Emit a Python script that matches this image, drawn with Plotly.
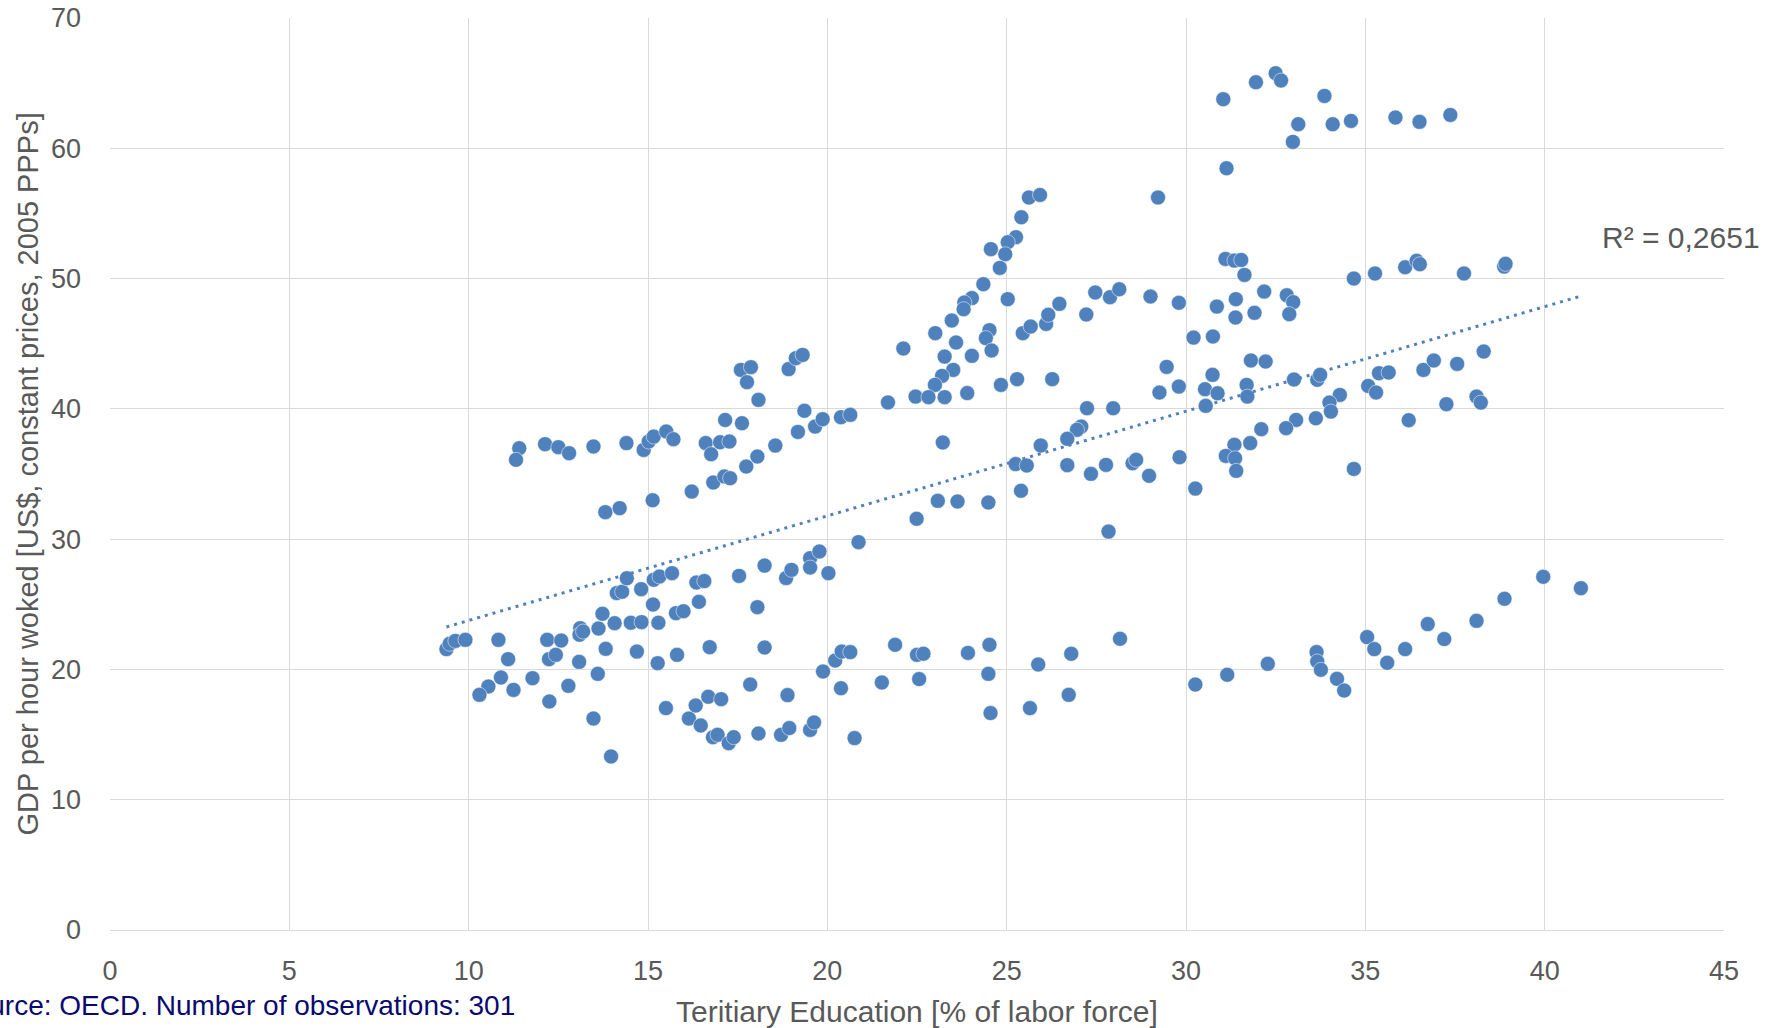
import numpy as np
import plotly.graph_objects as go

# Tertiary education [% of labor force]
edu = [
    11.41, 11.32, 12.13, 12.50, 12.80, 13.48, 14.40, 14.88, 15.02, 15.16, 15.51, 15.71, 16.61, 16.76, 17.01, 17.27,
    17.15, 17.62, 17.59, 17.87, 17.76, 18.08, 18.92, 19.12, 19.31, 19.36, 19.18, 19.66, 19.87, 20.38,
    13.81, 14.21, 15.13, 16.22, 16.82, 17.13, 17.29, 17.74, 18.05, 18.55,
    9.38, 9.47, 9.63, 9.91, 10.83, 11.10, 10.90, 10.55, 10.30, 11.25, 11.78, 12.19, 12.58, 12.24, 12.43, 12.25,
    12.78, 13.08, 13.11, 13.09, 13.19, 13.62, 13.73, 13.82, 13.60, 13.48, 13.97, 14.07, 14.13, 14.28, 14.41,
    14.52, 14.82, 14.69, 14.81, 15.16, 15.32, 15.67, 15.14, 15.29, 15.27, 15.81, 15.78, 15.99, 15.50, 16.14,
    16.33, 16.47, 16.68, 17.04, 16.81, 16.94, 17.25, 17.39, 16.35, 16.57, 16.42, 16.72, 17.54, 18.05, 18.25,
    18.25, 17.85, 18.08, 18.71, 18.94, 18.89, 18.85, 19.00, 19.52, 19.78, 19.52, 20.03, 19.52, 19.63, 19.88,
    20.22, 20.40, 20.38,
    25.62, 25.93, 25.41, 25.26, 25.03, 24.96, 24.56, 24.81, 24.35, 24.03, 23.82, 23.80, 23.47, 23.01, 22.12,
    23.59, 23.27, 24.03, 24.52, 24.42, 24.58, 25.03, 23.51, 23.20, 23.00, 22.46, 22.82, 23.27, 23.90, 24.84,
    25.29, 26.27, 21.69, 20.64, 25.45, 25.67, 26.10, 26.16, 26.47, 27.22, 27.47, 27.88, 28.14, 29.01, 29.22,
    29.80, 30.21, 30.75, 30.86, 29.46, 29.26, 29.80, 30.53, 30.74, 30.88, 30.55, 29.82, 30.26, 27.24, 27.97,
    27.08, 26.96, 26.69, 25.95, 26.69, 25.25, 25.56, 27.35, 27.77, 28.51, 28.61, 28.97, 23.22, 25.40, 23.08,
    23.63, 24.49, 22.49, 27.84, 20.87,
    21.89, 20.64, 20.76, 21.52, 22.50, 22.68, 22.56, 23.92, 24.52, 24.49, 24.55, 25.88, 26.80, 26.73, 25.65,
    28.16, 30.26,
    31.04, 31.95, 32.50, 32.65, 33.86, 33.13, 32.98, 34.09, 34.60, 35.84, 36.51, 37.37, 31.13, 31.10, 31.35,
    31.54, 31.63, 34.68, 35.27, 36.11, 36.43, 36.52, 37.75, 38.87, 38.91, 31.39, 31.38, 32.18, 31.91, 32.81,
    32.99, 32.88, 31.81, 32.22, 31.69, 31.71, 33.01, 33.66, 33.74, 34.29, 34.00, 34.04, 33.62, 33.07, 32.79,
    32.10, 31.79, 31.35, 31.11, 31.37, 31.40, 34.68, 35.08, 35.30, 35.38, 35.65, 36.21, 36.62, 36.91, 37.56,
    38.30, 37.26, 38.10, 38.22,
    31.15, 32.28, 33.64, 33.66, 33.76, 34.21, 34.41, 35.05, 35.25, 35.61, 36.11, 36.74, 37.20, 38.10, 38.88,
    39.96, 41.01,
]

# GDP per hour worked [US$, constant prices, 2005 PPPs]
gdp = [
    36.98, 36.09, 37.29, 37.06, 36.60, 37.11, 37.37, 36.85, 37.49, 37.87, 38.26, 37.67, 37.37, 36.52, 37.44, 37.49,
    39.15, 38.90, 42.99, 43.20, 42.05, 40.69, 43.05, 43.89, 44.14, 39.85, 38.23, 38.64, 39.21, 39.36,
    32.07, 32.38, 32.99, 33.65, 34.35, 34.81, 34.68, 35.57, 36.34, 37.18,
    21.56, 21.97, 22.19, 22.27, 22.27, 20.79, 19.38, 18.69, 18.05, 18.43, 19.33, 22.27, 22.22, 20.79, 21.12, 17.54,
    18.74, 20.58, 23.17, 22.66, 22.91, 23.14, 24.27, 21.58, 19.66, 16.23, 13.32, 23.55, 25.86, 25.96, 27.00,
    23.58, 23.63, 21.37, 26.16, 26.88, 27.13, 27.39, 24.98, 23.58, 20.48, 21.12, 24.32, 24.47, 17.03, 16.23,
    17.23, 15.70, 17.90, 17.72, 14.80, 14.98, 14.34, 14.80, 26.67, 26.78, 25.19, 21.71, 27.18, 24.78, 27.97,
    21.68, 18.84, 15.08, 14.98, 15.50, 18.03, 27.01, 27.64, 28.54, 29.05, 27.82, 27.39, 15.36, 15.93, 19.84,
    20.68, 21.37, 18.56,
    56.22, 56.42, 54.71, 53.18, 52.79, 51.87, 52.26, 50.82, 49.57, 48.50, 48.16, 47.65, 46.78, 45.81, 44.63,
    45.09, 44.01, 44.07, 46.04, 45.43, 44.48, 48.42, 42.99, 42.53, 41.84, 40.94, 40.90, 40.90, 41.21, 41.84,
    42.28, 42.28, 40.49, 39.54, 45.81, 46.32, 46.52, 47.22, 48.06, 47.24, 48.93, 48.57, 49.18, 48.62, 56.22,
    48.14, 45.47, 45.55, 47.85, 43.22, 41.25, 41.71, 41.51, 42.61, 41.20, 40.23, 36.29, 33.88, 40.05, 40.05,
    38.64, 38.39, 37.70, 37.19, 35.68, 35.76, 35.65, 35.01, 35.70, 35.83, 36.09, 34.86, 37.42, 33.71, 32.94,
    32.89, 32.81, 31.56, 30.58, 29.77,
    21.89, 21.33, 14.73, 19.00, 21.12, 21.20, 19.26, 21.27, 21.89, 19.66, 16.65, 20.38, 21.20, 18.05, 17.03,
    22.35, 18.84,
    63.77, 65.07, 65.76, 65.20, 64.02, 61.85, 60.49, 61.85, 62.10, 62.36, 62.03, 62.56, 58.47, 51.51, 51.38,
    51.43, 50.28, 50.00, 50.39, 50.87, 51.36, 51.10, 50.39, 50.92, 51.13, 48.42, 47.01, 49.00, 47.37, 48.72,
    48.19, 47.27, 43.71, 43.63, 41.84, 40.94, 42.25, 42.23, 42.61, 41.07, 40.48, 39.79, 39.28, 39.15, 38.52,
    38.44, 37.37, 37.24, 36.39, 36.21, 35.24, 35.39, 41.76, 41.25, 42.74, 42.79, 39.13, 42.99, 43.71, 43.45,
    44.40, 40.36, 40.94, 40.48,
    19.59, 20.43, 21.33, 20.61, 19.97, 19.28, 18.38, 22.48, 21.56, 20.51, 21.56, 23.48, 22.33, 23.73, 25.42,
    27.11, 26.24,
]

x_ticks = [0, 5, 10, 15, 20, 25, 30, 35, 40, 45]
y_ticks = [0, 10, 20, 30, 40, 50, 60, 70]

BLUE = "#4F81BD"
GRAY = "#595959"
GRID = "#D9D9D9"
FONT = "Liberation Sans"

xa = np.array(edu)
ya = np.array(gdp)
slope, intercept = np.polyfit(xa, ya, 1)
tx = np.array([xa.min(), xa.max()])
ty = slope * tx + intercept

fig = go.Figure()
fig.add_trace(go.Scatter(
    x=edu, y=gdp, mode="markers",
    marker=dict(color=BLUE, size=15, line=dict(color="rgba(255,255,255,0.5)", width=1)),
    showlegend=False, hoverinfo="x+y",
))
fig.add_trace(go.Scatter(
    x=tx, y=ty, mode="lines",
    line=dict(color=BLUE, width=3, dash="3px,5px"),
    showlegend=False, hoverinfo="skip",
))

fig.update_layout(
    width=1777, height=1028,
    margin=dict(l=109.5, r=53, t=18, b=98, autoexpand=False),
    paper_bgcolor="white", plot_bgcolor="white",
    font=dict(family=FONT, color=GRAY, size=27),
    xaxis=dict(range=[0, 45], tickvals=x_ticks, showgrid=True, gridcolor=GRID, gridwidth=1.3,
               zeroline=False, showline=True, linecolor=GRID, linewidth=1.3,
               tickfont=dict(size=27, color=GRAY, family=FONT), ticks="", ticklabelstandoff=16),
    yaxis=dict(range=[0, 70], tickvals=y_ticks, showgrid=True, gridcolor=GRID, gridwidth=1.3,
               zeroline=False, showline=False,
               tickfont=dict(size=27, color=GRAY, family=FONT), ticks="", ticklabelstandoff=28),
    annotations=[
        dict(text="GDP per hour woked [US$, constant prices, 2005 PPPs]", textangle=-90,
             xref="paper", yref="paper", x=-0.0511, y=0.5, xanchor="center", yanchor="middle",
             showarrow=False, font=dict(size=29, color=GRAY, family=FONT)),
        dict(text="Teritiary Education [% of labor force]",
             xref="paper", yref="paper", x=0.5, y=-0.0895, xanchor="center", yanchor="middle",
             showarrow=False, font=dict(size=30, color=GRAY, family=FONT)),
        dict(text="Source: OECD. Number of observations: 301",
             xref="paper", yref="paper", x=0.2524, y=-0.083, xanchor="right", yanchor="middle",
             showarrow=False, font=dict(size=28, color="#0A0A6E", family=FONT)),
        dict(text="R² = 0,2651",
             xref="paper", yref="paper", x=0.9734, y=0.759, xanchor="center", yanchor="middle",
             showarrow=False, font=dict(size=30, color=GRAY, family=FONT)),
    ],
)

fig.write_html("out.html", config={"displayModeBar": False},
               post_script="document.body.style.margin='0';document.body.style.overflow='hidden';")
